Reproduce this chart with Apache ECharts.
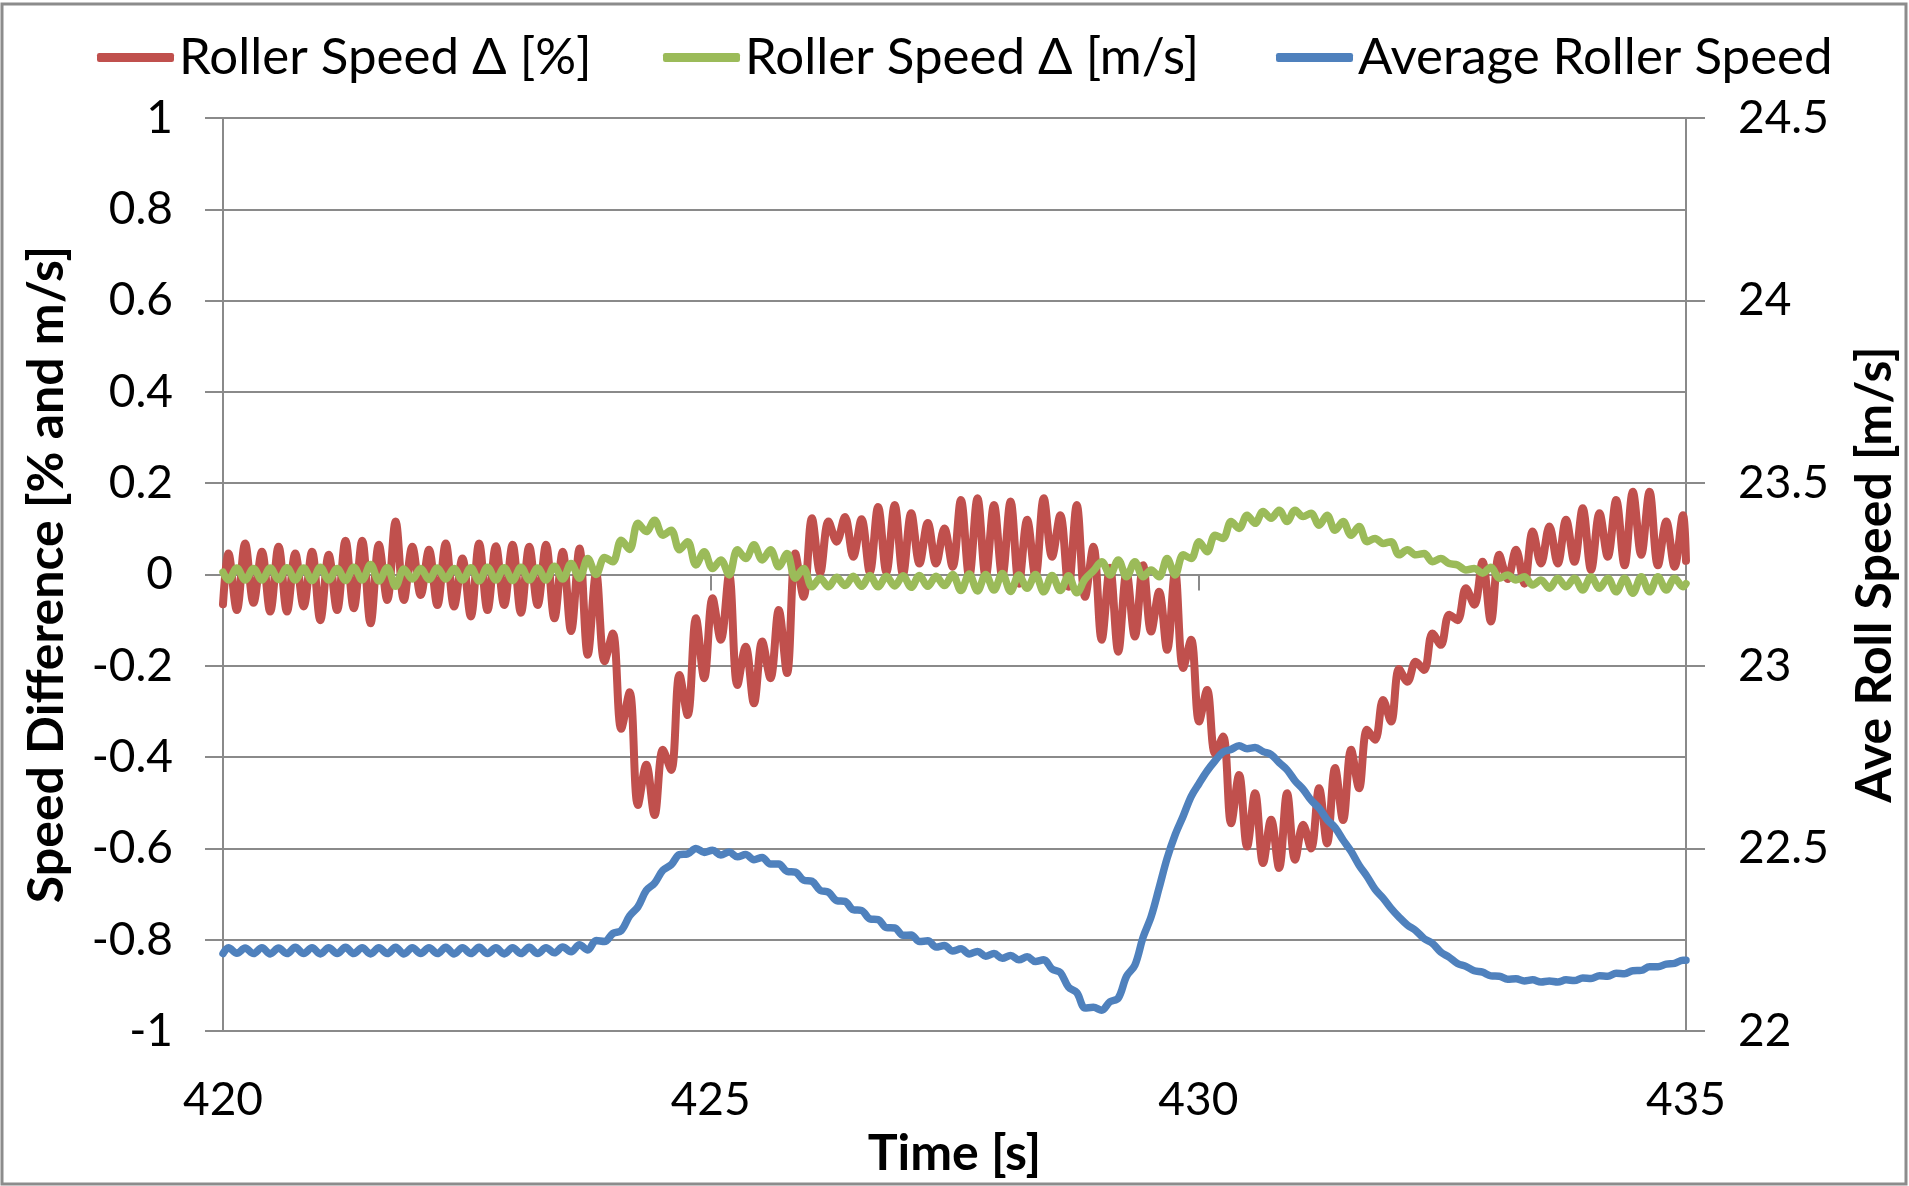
<!DOCTYPE html>
<html>
<head>
<meta charset="utf-8">
<title>Roller Speed</title>
<script src="https://cdn.jsdelivr.net/npm/echarts/dist/echarts.min.js"></script>
<style>
  html, body { margin: 0; padding: 0; background: #ffffff; }
  #chart { width: 1909px; height: 1186px; }
</style>
</head>
<body>
<div id="chart"></div>
<script>
// Sample times [s] (one sample per half revolution of the roller)
const timeS = [
  420.000, 420.056, 420.142, 420.227, 420.313, 420.399, 420.484, 420.570, 420.656, 420.741,
  420.827, 420.913, 420.998, 421.084, 421.170, 421.256, 421.341, 421.427, 421.513, 421.598,
  421.684, 421.770, 421.855, 421.941, 422.027, 422.112, 422.198, 422.284, 422.369, 422.455,
  422.541, 422.626, 422.712, 422.798, 422.883, 422.969, 423.055, 423.140, 423.226, 423.312,
  423.398, 423.483, 423.569, 423.655, 423.740, 423.826, 423.912, 423.997, 424.083, 424.169,
  424.254, 424.340, 424.425, 424.510, 424.595, 424.680, 424.764, 424.849, 424.934, 425.019,
  425.104, 425.189, 425.274, 425.359, 425.444, 425.528, 425.613, 425.698, 425.783, 425.868,
  425.953, 426.038, 426.123, 426.208, 426.292, 426.377, 426.462, 426.547, 426.632, 426.717,
  426.802, 426.887, 426.972, 427.056, 427.141, 427.226, 427.311, 427.396, 427.481, 427.566,
  427.651, 427.736, 427.820, 427.905, 427.990, 428.075, 428.160, 428.245, 428.330, 428.415,
  428.500, 428.585, 428.669, 428.754, 428.839, 428.924, 429.009, 429.094, 429.179, 429.264,
  429.349, 429.434, 429.516, 429.598, 429.680, 429.762, 429.844, 429.926, 430.008, 430.090,
  430.172, 430.254, 430.336, 430.418, 430.500, 430.582, 430.664, 430.746, 430.828, 430.910,
  430.992, 431.074, 431.156, 431.238, 431.320, 431.402, 431.484, 431.566, 431.648, 431.730,
  431.812, 431.894, 431.976, 432.058, 432.144, 432.229, 432.315, 432.400, 432.486, 432.572,
  432.657, 432.743, 432.829, 432.914, 433.000, 433.085, 433.171, 433.257, 433.342, 433.428,
  433.513, 433.599, 433.685, 433.770, 433.856, 433.941, 434.027, 434.113, 434.198, 434.284,
  434.370, 434.455, 434.541, 434.626, 434.712, 434.798, 434.883, 434.969, 435.000
];

// Roller speed difference [%]
const speedDeltaPct = [
  -0.065, 0.046, -0.078, 0.068, -0.062, 0.050, -0.081, 0.061, -0.081, 0.046,
  -0.070, 0.050, -0.100, 0.043, -0.078, 0.074, -0.074, 0.074, -0.107, 0.065,
  -0.056, 0.116, -0.056, 0.061, -0.045, 0.054, -0.067, 0.068, -0.070, 0.035,
  -0.092, 0.068, -0.078, 0.062, -0.067, 0.065, -0.084, 0.061, -0.067, 0.065,
  -0.096, 0.050, -0.124, 0.057, -0.176, 0.003, -0.190, -0.129, -0.338, -0.258,
  -0.505, -0.417, -0.527, -0.384, -0.428, -0.220, -0.308, -0.096, -0.227, -0.052,
  -0.143, 0.000, -0.242, -0.158, -0.282, -0.147, -0.227, -0.078, -0.216, 0.046,
  -0.049, 0.123, 0.004, 0.116, 0.072, 0.126, 0.039, 0.121, 0.005, 0.148,
  0.005, 0.152, 0.000, 0.134, 0.024, 0.113, 0.024, 0.101, 0.017, 0.163,
  -0.005, 0.167, -0.005, 0.152, -0.005, 0.160, -0.020, 0.120, -0.005, 0.167,
  0.039, 0.130, -0.027, 0.152, -0.049, 0.061, -0.143, 0.015, -0.169, 0.004,
  -0.136, 0.020, -0.125, -0.038, -0.165, 0.006, -0.205, -0.143, -0.322, -0.253,
  -0.392, -0.355, -0.545, -0.439, -0.596, -0.479, -0.632, -0.537, -0.643, -0.479,
  -0.625, -0.548, -0.600, -0.468, -0.589, -0.424, -0.538, -0.384, -0.468, -0.340,
  -0.362, -0.275, -0.322, -0.207, -0.235, -0.191, -0.209, -0.129, -0.154, -0.088,
  -0.100, -0.030, -0.066, 0.028, -0.103, 0.043, -0.010, 0.054, -0.020, 0.094,
  0.024, 0.105, 0.024, 0.120, 0.028, 0.145, 0.010, 0.134, 0.039, 0.163,
  0.020, 0.181, 0.043, 0.181, 0.020, 0.116, 0.017, 0.130, 0.030
];

// Roller speed difference [m/s]
const speedDeltaMs = [
  0.005, -0.012, 0.014, -0.012, 0.013, -0.012, 0.014, -0.011, 0.015, -0.012,
  0.014, -0.013, 0.016, -0.012, 0.013, -0.013, 0.016, -0.012, 0.022, -0.014,
  0.015, -0.026, 0.012, -0.010, 0.013, -0.011, 0.014, -0.010, 0.013, -0.012,
  0.015, -0.014, 0.016, -0.012, 0.015, -0.013, 0.016, -0.012, 0.014, -0.012,
  0.018, -0.010, 0.024, -0.008, 0.035, 0.000, 0.037, 0.028, 0.075, 0.055,
  0.112, 0.094, 0.119, 0.086, 0.097, 0.054, 0.072, 0.021, 0.050, 0.013,
  0.032, -0.001, 0.054, 0.035, 0.065, 0.032, 0.054, 0.017, 0.046, -0.008,
  0.013, -0.027, -0.008, -0.027, -0.006, -0.024, -0.004, -0.026, -0.002, -0.027,
  -0.004, -0.025, -0.003, -0.028, -0.002, -0.026, -0.004, -0.024, 0.000, -0.035,
  0.001, -0.036, 0.000, -0.034, 0.002, -0.037, -0.001, -0.030, 0.000, -0.038,
  -0.002, -0.035, -0.003, -0.040, -0.010, 0.008, 0.028, -0.001, 0.032, -0.005,
  0.028, -0.005, 0.010, -0.005, 0.035, -0.001, 0.043, 0.035, 0.072, 0.050,
  0.086, 0.079, 0.116, 0.101, 0.130, 0.112, 0.138, 0.123, 0.141, 0.116,
  0.141, 0.127, 0.134, 0.108, 0.130, 0.097, 0.116, 0.086, 0.105, 0.072,
  0.079, 0.068, 0.072, 0.043, 0.054, 0.043, 0.046, 0.028, 0.035, 0.024,
  0.021, 0.010, 0.013, 0.003, 0.016, -0.008, -0.001, -0.012, -0.005, -0.023,
  -0.012, -0.030, -0.008, -0.027, -0.008, -0.034, -0.005, -0.030, -0.008, -0.038,
  -0.008, -0.041, -0.005, -0.038, -0.005, -0.034, -0.008, -0.027, -0.020
];

// Average roller speed [m/s]
const avgRollerSpeed = [
  22.212, 22.228, 22.213, 22.227, 22.212, 22.228, 22.211, 22.227, 22.212, 22.229,
  22.212, 22.228, 22.211, 22.228, 22.212, 22.229, 22.212, 22.228, 22.211, 22.228,
  22.212, 22.229, 22.211, 22.228, 22.212, 22.228, 22.212, 22.229, 22.211, 22.228,
  22.212, 22.229, 22.212, 22.228, 22.211, 22.228, 22.212, 22.229, 22.212, 22.228,
  22.214, 22.230, 22.217, 22.236, 22.222, 22.248, 22.245, 22.267, 22.275, 22.315,
  22.340, 22.385, 22.405, 22.440, 22.455, 22.483, 22.485, 22.500, 22.489, 22.495,
  22.482, 22.490, 22.477, 22.483, 22.469, 22.475, 22.457, 22.457, 22.437, 22.435,
  22.413, 22.410, 22.385, 22.380, 22.357, 22.355, 22.332, 22.330, 22.307, 22.305,
  22.283, 22.282, 22.262, 22.263, 22.245, 22.247, 22.230, 22.234, 22.219, 22.225,
  22.211, 22.218, 22.205, 22.212, 22.199, 22.207, 22.195, 22.203, 22.190, 22.195,
  22.170, 22.160, 22.120, 22.105, 22.063, 22.065, 22.057, 22.080, 22.090, 22.150,
  22.180, 22.257, 22.313, 22.392, 22.473, 22.537, 22.588, 22.642, 22.678, 22.712,
  22.740, 22.764, 22.771, 22.781, 22.773, 22.776, 22.765, 22.757, 22.735, 22.715,
  22.685, 22.662, 22.632, 22.610, 22.579, 22.557, 22.523, 22.492, 22.454, 22.423,
  22.388, 22.364, 22.336, 22.312, 22.290, 22.275, 22.253, 22.240, 22.216, 22.202,
  22.185, 22.177, 22.165, 22.161, 22.151, 22.150, 22.142, 22.143, 22.137, 22.140,
  22.134, 22.137, 22.134, 22.140, 22.138, 22.145, 22.144, 22.151, 22.150, 22.158,
  22.157, 22.165, 22.166, 22.176, 22.176, 22.183, 22.185, 22.194, 22.194
];

// Axis ranges and tick spacing
const timeRange = [420, 435, 5];
const deltaRange = [-1, 1, 0.2];
const speedRange = [22, 24.5, 0.5];

const seriesNames = ['Roller Speed Δ [%]', 'Roller Speed Δ [m/s]', 'Average Roller Speed'];
const seriesColors = ['#C0504D', '#9BBB59', '#4F81BD'];

const FONT = 'Lato, "Open Sans", sans-serif';
const GRID_GREY = '#8a8a8a';
const TICK_FONT = 46;
const TITLE_FONT = 50;

function pairs(values) {
  return timeS.map((t, i) => [t, values[i]]);
}

const chart = echarts.init(document.getElementById('chart'), null, { renderer: 'canvas' });

function legendEntry(idx, left) {
  return {
    data: [seriesNames[idx]],
    left: left,
    top: 32,
    padding: 0,
    icon: 'roundRect',
    itemWidth: 77,
    itemHeight: 9,
    selectedMode: false,
    textStyle: { fontFamily: FONT, fontSize: 51, color: '#000' }
  };
}

const lineSeries = (idx, values, yIndex, width) => ({
  name: seriesNames[idx],
  type: 'line',
  xAxisIndex: 0,
  yAxisIndex: yIndex,
  data: pairs(values),
  showSymbol: false,
  smooth: 0.35,
  clip: true,
  color: seriesColors[idx],
  lineStyle: { width: width, color: seriesColors[idx], cap: 'round', join: 'round' },
  emphasis: { disabled: true }
});

const option = {
  animation: false,
  backgroundColor: '#ffffff',
  textStyle: { fontFamily: FONT },
  grid: { left: 223, right: 223, top: 118, bottom: 155, containLabel: false },
  legend: [legendEntry(0, 97), legendEntry(1, 663), legendEntry(2, 1276)],
  xAxis: [
    {
      type: 'value',
      position: 'bottom',
      min: timeRange[0], max: timeRange[1], interval: timeRange[2],
      axisLine: { show: false, onZero: false },
      axisTick: { show: false },
      splitLine: { show: false },
      axisLabel: { fontFamily: FONT, fontSize: TICK_FONT, color: '#000', margin: 46 },
      name: 'Time [s]',
      nameLocation: 'middle',
      nameGap: 98,
      nameTextStyle: { fontFamily: FONT, fontSize: TITLE_FONT, fontWeight: 'bold', color: '#000' }
    },
    {
      // axis line through zero with tick marks below it
      type: 'value',
      position: 'top',
      min: timeRange[0], max: timeRange[1], interval: timeRange[2],
      axisLine: { show: true, onZero: true, onZeroAxisIndex: 0, lineStyle: { color: GRID_GREY, width: 2 } },
      axisTick: { show: true, inside: true, length: 16, lineStyle: { color: GRID_GREY, width: 2 } },
      axisLabel: { show: false },
      splitLine: { show: false }
    }
  ],
  yAxis: [
    {
      type: 'value',
      position: 'left',
      min: deltaRange[0], max: deltaRange[1], interval: deltaRange[2],
      axisLine: { show: true, lineStyle: { color: GRID_GREY, width: 2 } },
      axisTick: { show: true, length: 18, lineStyle: { color: GRID_GREY, width: 2 } },
      splitLine: { show: true, lineStyle: { color: GRID_GREY, width: 2 } },
      axisLabel: { fontFamily: FONT, fontSize: TICK_FONT, color: '#000', margin: 50 },
      name: 'Speed Difference [% and m/s]',
      nameLocation: 'middle',
      nameRotate: 90,
      nameGap: 151,
      nameTextStyle: { fontFamily: FONT, fontSize: TITLE_FONT, fontWeight: 'bold', color: '#000' }
    },
    {
      type: 'value',
      position: 'right',
      min: speedRange[0], max: speedRange[1], interval: speedRange[2],
      axisLine: { show: true, lineStyle: { color: GRID_GREY, width: 2 } },
      axisTick: { show: true, length: 19, lineStyle: { color: GRID_GREY, width: 2 } },
      splitLine: { show: false },
      axisLabel: { fontFamily: FONT, fontSize: TICK_FONT, color: '#000', margin: 52 },
      name: 'Ave Roll Speed [m/s]',
      nameLocation: 'middle',
      nameRotate: 90,
      nameGap: 164,
      nameTextStyle: { fontFamily: FONT, fontSize: TITLE_FONT, fontWeight: 'bold', color: '#000' }
    }
  ],
  graphic: [
    {
      type: 'rect',
      silent: true,
      shape: { x: 2, y: 4, width: 1904, height: 1180 },
      style: { fill: 'none', stroke: '#8c8c8c', lineWidth: 3 },
      z: 100
    }
  ],
  series: [
    lineSeries(0, speedDeltaPct, 0, 8),
    lineSeries(1, speedDeltaMs, 0, 7.5),
    lineSeries(2, avgRollerSpeed, 1, 7.5)
  ]
};

chart.setOption(option);
</script>
</body>
</html>
